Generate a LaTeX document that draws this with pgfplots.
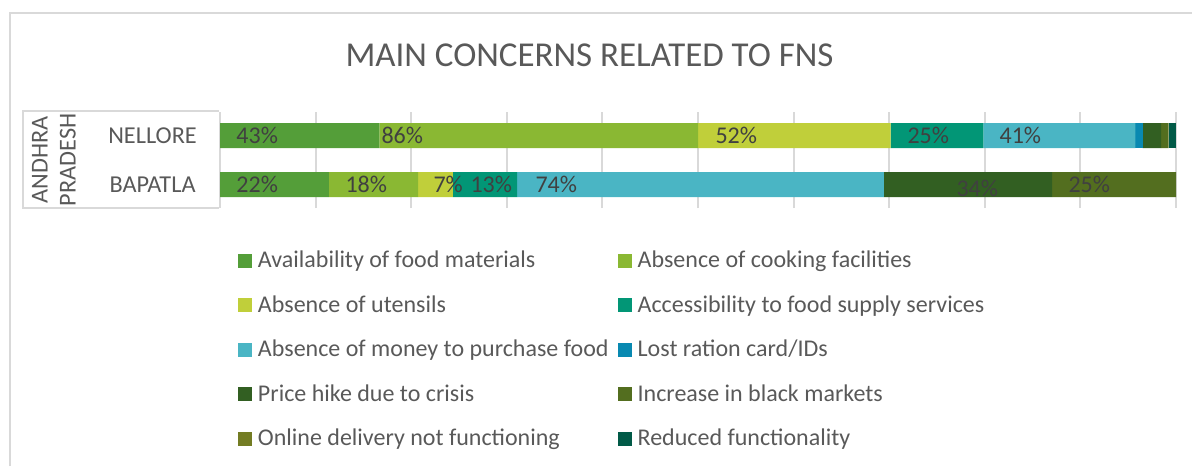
\documentclass[border=0pt]{standalone}
\usepackage{pgfplots}
\pgfplotsset{compat=1.18}
\usepackage{pgfplotstable}
\usepackage{fontspec}
\setmainfont{Carlito}
\definecolor{c1}{HTML}{549E39}
\definecolor{c2}{HTML}{8AB833}
\definecolor{c3}{HTML}{C0CF3A}
\definecolor{c4}{HTML}{029676}
\definecolor{c5}{HTML}{4AB5C4}
\definecolor{c6}{HTML}{0989B1}
\definecolor{c7}{HTML}{325F22}
\definecolor{c8}{HTML}{536E1F}
\definecolor{c9}{HTML}{737C23}
\definecolor{c10}{HTML}{015A47}
\definecolor{txt}{HTML}{595959}
\definecolor{lbl}{HTML}{404040}
\definecolor{gridc}{HTML}{D9D9D9}

% y: 1 = NELLORE, 0 = BAPATLA ; v = value (%), t = row total used for 100% stacking
\pgfplotstableread{
y v t
1 43 258
0 22 193
}\sA
\pgfplotstableread{
y v t
1 86 258
0 18 193
}\sB
\pgfplotstableread{
y v t
1 52 258
0 7 193
}\sC
\pgfplotstableread{
y v t
1 25 258
0 13 193
}\sD
\pgfplotstableread{
y v t
1 41 258
0 74 193
}\sE
\pgfplotstableread{
y v t
1 2 258
0 0 193
}\sF
\pgfplotstableread{
y v t
1 5 258
0 34 193
}\sG
\pgfplotstableread{
y v t
1 2 258
0 25 193
}\sH
\pgfplotstableread{
y v t
1 0 258
0 0 193
}\sI
\pgfplotstableread{
y v t
1 2 258
0 0 193
}\sJ
% data labels: x position (left edge, % of bar), y, label value
\pgfplotstableread{
x y lab
1.67 1 43
16.84 1 86
51.78 1 52
71.86 1 25
81.49 1 41
1.67 0 22
13.08 0 18
22.28 0 7
26.15 0 13
32.95 0 74
76.99 -0.07 34
88.70 0 25
}\labels

\pgfplotsset{sq/.style={fill=#1, draw=none,
  legend image code/.code={\fill[#1] (0pt,0pt) rectangle (5.25pt,5.25pt);}}}

\begin{document}
\begin{tikzpicture}
\useasboundingbox (0,0) rectangle (447pt,-174.75pt);
\begin{axis}[
  at={(82.5pt,-78pt)}, anchor=south west,
  scale only axis, width=358.5pt, height=36pt,
  xbar stacked, bar width=9.375pt,
  xmin=0, xmax=100, ymin=-0.48, ymax=1.48,
  xtick={0,10,...,100}, xticklabels={},
  xmajorgrids, major grid style={draw=gridc, line width=0.75pt},
  ytick={0,1}, yticklabels={BAPATLA,NELLORE},
  yticklabel style={anchor=center, xshift=-25.3pt, font=\fontsize{9.1}{10}\selectfont, text=txt},
  major tick length=0pt,
  axis y line*=left, axis x line*=bottom,
  x axis line style={draw=none},
  y axis line style={draw=gridc, line width=0.75pt, -},
  legend columns=2,
  legend style={at={(axis description cs:0.0188,-0.448)}, anchor=north west,
    draw=none, fill=none, inner sep=0pt, outer sep=0pt,
    font=\fontsize{9}{10}\selectfont, text=txt,
    row sep=10.4pt,
    nodes={inner sep=0pt, text height=6.3pt, text depth=0pt},
    cells={anchor=base west},
    /tikz/every odd column/.append style={column sep=2.25pt},
    /tikz/every even column/.append style={column sep=3.4pt}},
]
\addplot[sq=c1] table[x expr=\thisrow{v}/\thisrow{t}*100, y=y]{\sA};
\addlegendentry{Availability of food materials}
\addplot[sq=c2] table[x expr=\thisrow{v}/\thisrow{t}*100, y=y]{\sB};
\addlegendentry{Absence of cooking facilities}
\addplot[sq=c3] table[x expr=\thisrow{v}/\thisrow{t}*100, y=y]{\sC};
\addlegendentry{Absence of utensils}
\addplot[sq=c4] table[x expr=\thisrow{v}/\thisrow{t}*100, y=y]{\sD};
\addlegendentry{Accessibility to food supply services}
\addplot[sq=c5] table[x expr=\thisrow{v}/\thisrow{t}*100, y=y]{\sE};
\addlegendentry{Absence of money to purchase food}
\addplot[sq=c6] table[x expr=\thisrow{v}/\thisrow{t}*100, y=y]{\sF};
\addlegendentry{Lost ration card/IDs}
\addplot[sq=c7] table[x expr=\thisrow{v}/\thisrow{t}*100, y=y]{\sG};
\addlegendentry{Price hike due to crisis}
\addplot[sq=c8] table[x expr=\thisrow{v}/\thisrow{t}*100, y=y]{\sH};
\addlegendentry{Increase in black markets}
\addplot[sq=c9] table[x expr=\thisrow{v}/\thisrow{t}*100, y=y]{\sI};
\addlegendentry{Online delivery not functioning}
\addplot[sq=c10] table[x expr=\thisrow{v}/\thisrow{t}*100, y=y]{\sJ};
\addlegendentry{Reduced functionality}
\end{axis}
\begin{axis}[
  at={(82.5pt,-78pt)}, anchor=south west,
  scale only axis, width=358.5pt, height=36pt,
  xmin=0, xmax=100, ymin=-0.48, ymax=1.48, hide axis]
\addplot[draw=none, mark=none, point meta=explicit symbolic,
  nodes near coords={\pgfplotspointmeta\%},
  nodes near coords style={anchor=west, inner sep=0pt, font=\fontsize{9}{10}\selectfont, text=lbl}]
  table[x=x, y=y, meta=lab]{\labels};
\end{axis}
\begin{scope}[x=0.375pt, y=-0.375pt]
\draw[gridc, line width=0.75pt] (10,466) -- (10,13) -- (1192,13);
\draw[gridc, line width=0.75pt] (219,111) -- (23,111) -- (23,208) -- (219,208);
\node[rotate=90, align=center, font=\fontsize{9.1}{10.5}\selectfont, text=txt, inner sep=0pt] at (54,160) {ANDHRA\\PRADESH};
\node[font=\fontsize{13.1}{16}\selectfont, text=txt, inner sep=0pt] at (589.5,55.7) {MAIN CONCERNS RELATED TO FNS};
\end{scope}
\end{tikzpicture}
\end{document}
